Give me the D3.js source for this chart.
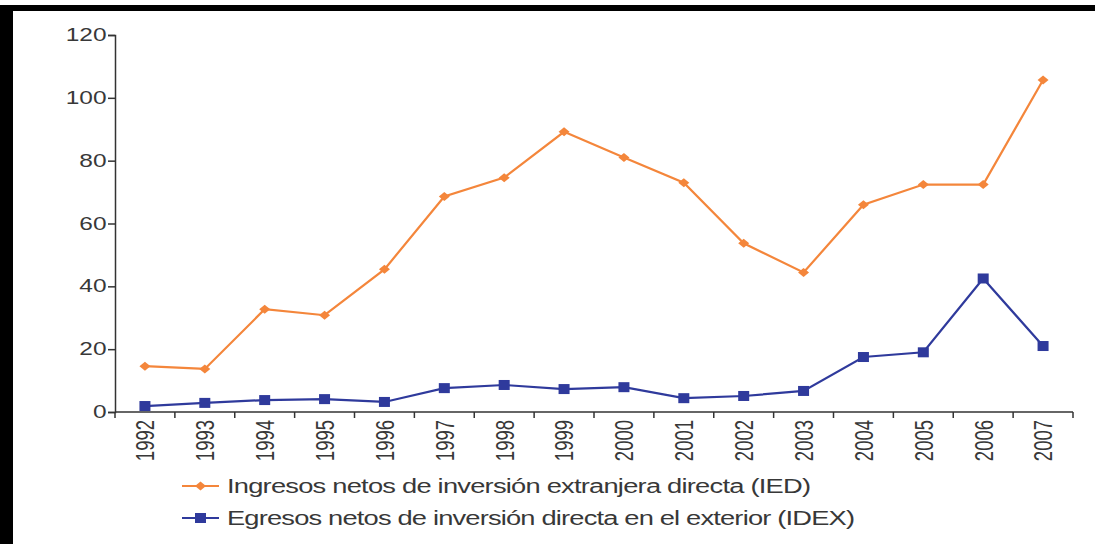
<!DOCTYPE html>
<html>
<head>
<meta charset="utf-8">
<style>
  body { margin: 0; background: #fff; }
  text { font-family: "Liberation Sans", Arial, sans-serif; fill: #383838; }
</style>
</head>
<body>
<script src="https://d3js.org/d3.v7.min.js"></script>
<script>
var years = ["1992","1993","1994","1995","1996","1997","1998","1999","2000","2001","2002","2003","2004","2005","2006","2007"];
var ied  = [14.6, 13.7, 32.7, 30.8, 45.4, 68.6, 74.6, 89.2, 81.0, 73.0, 53.7, 44.4, 66.0, 72.4, 72.4, 105.7];
var idex = [1.9, 2.9, 3.8, 4.1, 3.2, 7.6, 8.6, 7.3, 7.9, 4.4, 5.1, 6.7, 17.5, 19.0, 42.5, 21.0];
var yTicks = [0, 20, 40, 60, 80, 100, 120];
var legendLabels = [
  "Ingresos netos de inversión extranjera directa (IED)",
  "Egresos netos de inversión directa en el exterior (IDEX)"
];

var W = 1095, H = 544;
var orange = "#f4863b", blue = "#2f3a9c";
var stretch = 1.4; // the source picture is widened horizontally

var svg = d3.select("body").append("svg")
    .attr("width", W).attr("height", H);

svg.append("rect").attr("width", W).attr("height", H).attr("fill", "#fff");
// frame bars (left and top)
svg.append("rect").attr("x", 0).attr("y", 5).attr("width", 13).attr("height", H - 5).attr("fill", "#000");
svg.append("rect").attr("x", 0).attr("y", 5).attr("width", W).attr("height", 6).attr("fill", "#000");

var x = d3.scaleBand().domain(years).range([115, 1073]);
var y = d3.scaleLinear().domain([0, 120]).range([412, 35]);
var cx = function(d, i) { return x(years[i]) + x.bandwidth() / 2; };

// y axis
var yAxis = svg.append("g").attr("transform", "translate(115,0)")
    .call(d3.axisLeft(y).tickValues(yTicks).tickSize(7).tickPadding(2));
yAxis.select(".domain").attr("stroke", "#333").attr("stroke-width", 1.5);
yAxis.selectAll(".tick line").attr("stroke", "#333").attr("stroke-width", 1.5);
yAxis.selectAll(".tick text")
    .style("font-size", "17.5px")
    .attr("fill", "#383838").attr("font-family", null)
    .attr("x", -8.5 / stretch)
    .attr("transform", "scale(" + stretch + ",1)");

// x axis: line + boundary ticks
var xg = svg.append("g");
xg.append("line").attr("x1", 115).attr("x2", 1073).attr("y1", 412).attr("y2", 412)
    .attr("stroke", "#333").attr("stroke-width", 1.5);
var bounds = years.map(function(d) { return x(d); }).concat([x.range()[1]]);
xg.selectAll(".xt").data(bounds).enter().append("line")
    .attr("x1", function(d) { return d; }).attr("x2", function(d) { return d; })
    .attr("y1", 412).attr("y2", 418)
    .attr("stroke", "#333").attr("stroke-width", 1.5);
xg.selectAll(".xl").data(years).enter().append("text")
    .attr("transform", function(d) {
      return "translate(" + (x(d) + x.bandwidth() / 2) + ",420) rotate(-90) scale(1," + stretch + ")";
    })
    .attr("text-anchor", "end")
    .attr("dy", "0.36em")
    .style("font-size", "18.5px")
    .text(function(d) { return d; });

// lines
var line = d3.line().x(cx).y(function(d) { return y(d); });
svg.append("path").datum(ied).attr("fill", "none").attr("stroke", orange)
    .attr("stroke-width", 2.2).attr("d", line);
svg.append("path").datum(idex).attr("fill", "none").attr("stroke", blue)
    .attr("stroke-width", 2.2).attr("d", line);

var diamond = "M0,-4.5L5.5,0L0,4.5L-5.5,0Z";
svg.selectAll(".dm").data(ied).enter().append("path")
    .attr("d", diamond).attr("fill", orange)
    .attr("transform", function(d, i) { return "translate(" + cx(d, i) + "," + y(d) + ")"; });
svg.selectAll(".sq").data(idex).enter().append("rect")
    .attr("width", 11).attr("height", 10).attr("fill", blue)
    .attr("x", function(d, i) { return cx(d, i) - 5.5; })
    .attr("y", function(d) { return y(d) - 5; });

// legend
var lg = svg.append("g");
var lgY = [486, 518];
var lgCol = [orange, blue];
var lgW = [584, 628];
lgY.forEach(function(ly, i) {
  lg.append("line").attr("x1", 182).attr("x2", 219).attr("y1", ly).attr("y2", ly)
      .attr("stroke", lgCol[i]).attr("stroke-width", 2.2);
  if (i === 0) {
    lg.append("path").attr("d", diamond).attr("fill", orange)
        .attr("transform", "translate(200.5," + ly + ")");
  } else {
    lg.append("rect").attr("x", 195).attr("y", ly - 5).attr("width", 11).attr("height", 10).attr("fill", blue);
  }
  lg.append("text")
      .attr("transform", "translate(227," + (ly + 7) + ") scale(" + stretch + ",1)")
      .attr("textLength", lgW[i] / stretch).attr("lengthAdjust", "spacing")
      .style("font-size", "19.5px")
      .text(legendLabels[i]);
});
</script>
</body>
</html>
